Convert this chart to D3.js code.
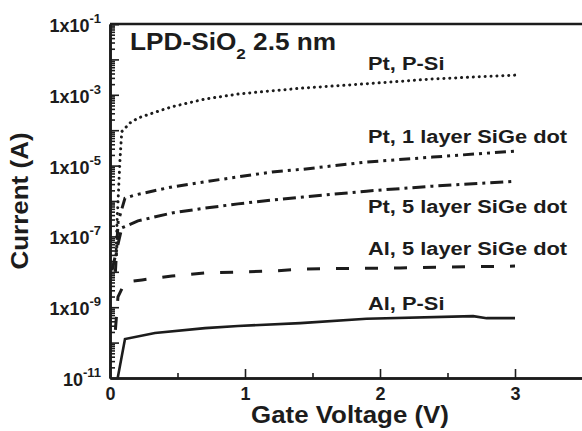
<!DOCTYPE html>
<html>
<head>
<meta charset="utf-8">
<script src="https://cdn.jsdelivr.net/npm/d3@7"></script>
<style>
  body { margin: 0; background: #fff; }
  svg text { font-family: "Liberation Sans", Arial, sans-serif; font-weight: bold; fill: #1c1c1c; }
</style>
</head>
<body>
<div id="chart"></div>
<script>
// I-V curves (gate voltage in V, current in A)
const ptPSi = [[0.045,3e-8],[0.052,2.4e-7],[0.074,1.45e-5],[0.087,9.1e-5],[0.148,1.6e-4],[0.207,2.2e-4],
  [0.333,3.2e-4],[0.459,4.6e-4],[0.704,7.6e-4],[0.948,1.05e-3],[1.2,1.3e-3],[1.43,1.55e-3],
  [1.9,2.05e-3],[2.39,2.8e-3],[3.0,3.6e-3]];
const pt1Layer = [[0.04,1e-8],[0.06,2.6e-7],[0.111,1.2e-6],[0.185,1.48e-6],[0.459,2.5e-6],[0.704,3.5e-6],
  [0.948,4.8e-6],[1.2,6.6e-6],[1.43,7.9e-6],[1.9,1.26e-5],[2.39,1.74e-5],[3.0,2.57e-5]];
const pt5Layer = [[0.015,1.1e-8],[0.087,1.74e-7],[0.207,2.75e-7],[0.459,4.6e-7],[0.704,6.3e-7],[0.948,8.3e-7],
  [1.2,1.07e-6],[1.43,1.29e-6],[1.9,1.9e-6],[2.39,2.63e-6],[3.0,3.6e-6]];
const al5Layer = [[0.04,2.3e-10],[0.059,1.95e-9],[0.111,5.1e-9],[0.237,5.9e-9],[0.459,7.6e-9],[0.704,9.3e-9],
  [0.948,9.8e-9],[1.2,1.05e-8],[1.43,1.2e-8],[2.15,1.29e-8],[3.0,1.45e-8]];
const alPSi = [[0.057,1e-11],[0.111,1.26e-10],[0.333,1.86e-10],[0.704,2.57e-10],[0.948,2.95e-10],
  [1.41,3.55e-10],[1.9,4.7e-10],[2.69,5.6e-10],[2.79,4.9e-10],[3.0,4.9e-10]];

const seriesLabels = ["Pt, P-Si", "Pt, 1 layer SiGe dot", "Pt, 5 layer SiGe dot", "Al, 5 layer SiGe dot", "Al, P-Si"];
// current level at each label's baseline
const labelCurrents = [5.0e-3, 4.4e-5, 4.6e-7, 2.95e-8, 8.3e-10];

const xTicks = [0, 1, 2, 3];
const xMinorTicks = [0.5, 1.5, 2.5];
const yDecades = d3.range(-11, 0).map(e => Math.pow(10, e));
const yLabelExps = [-1, -3, -5, -7, -9, -11];

const margin = {top: 24, left: 110};
const width = 472.5, height = 354;

const svg = d3.select("#chart").append("svg")
  .attr("width", 582)
  .attr("height", 431);

const x = d3.scaleLinear().domain([0, 3.5]).range([margin.left, margin.left + width]);
const y = d3.scaleLog().domain([1e-11, 1e-1]).range([margin.top + height, margin.top]);

svg.append("clipPath").attr("id", "plot")
  .append("rect")
  .attr("x", margin.left).attr("y", margin.top - 2)
  .attr("width", width).attr("height", height + 2);

// curves
const styles = [
  {data: ptPSi, dash: "0.1,5.8", cap: "round", w: 3},
  {data: pt1Layer, dash: "11,5,3,5,3,5", cap: "butt", w: 3},
  {data: pt5Layer, dash: "13,5,3,5", cap: "butt", w: 3},
  {data: al5Layer, dash: "13,16", cap: "butt", w: 3},
  {data: alPSi, dash: null, cap: "butt", w: 2.6}
];

const line = d3.line()
  .x(d => x(d[0]))
  .y(d => y(d[1]));

styles.forEach(s => {
  svg.append("path")
    .datum(s.data)
    .attr("clip-path", "url(#plot)")
    .attr("fill", "none")
    .attr("stroke", "#1c1c1c")
    .attr("stroke-width", s.w)
    .attr("stroke-linecap", s.cap)
    .attr("stroke-dasharray", s.dash)
    .attr("d", line);
});

// axes
const yMinor = [];
yDecades.slice(0, -1).forEach(d => { for (let k = 2; k <= 9; k++) yMinor.push(d * k); });

svg.append("g")
  .attr("transform", "translate(" + margin.left + ",0)")
  .call(d3.axisLeft(y).tickValues(yMinor).tickSize(-5).tickSizeOuter(0).tickFormat(""));
svg.append("g")
  .attr("transform", "translate(" + margin.left + ",0)")
  .call(d3.axisLeft(y).tickValues(yDecades.concat([1e-1])).tickSize(-9).tickSizeOuter(0).tickFormat(""));

svg.append("g")
  .attr("transform", "translate(0," + (margin.top + height) + ")")
  .call(d3.axisBottom(x).tickValues(xMinorTicks).tickSize(-5).tickSizeOuter(0).tickFormat(""));
const xAxis = svg.append("g")
  .attr("transform", "translate(0," + (margin.top + height) + ")")
  .call(d3.axisBottom(x).tickValues(xTicks).tickSize(-9).tickSizeOuter(0).tickPadding(9).tickFormat(d3.format("d")));
xAxis.selectAll("text").style("font-size", "18px");

svg.selectAll(".domain").attr("stroke", "#1c1c1c").attr("stroke-width", 2.6);
svg.selectAll(".tick line").attr("stroke", "#1c1c1c").attr("stroke-width", 1.6);

// top frame
svg.append("line")
  .attr("x1", margin.left).attr("x2", margin.left + width)
  .attr("y1", margin.top).attr("y2", margin.top)
  .attr("stroke", "#1c1c1c").attr("stroke-width", 2.4);

// y tick labels
yLabelExps.forEach(e => {
  const t = svg.append("text")
    .attr("x", 101)
    .attr("y", y(Math.pow(10, e)) + 8)
    .attr("text-anchor", "end")
    .style("font-size", "18px");
  t.append("tspan").text(e === -11 ? "10" : "1x10");
  t.append("tspan").attr("dy", -9).style("font-size", "13px").text(e);
});

// stretched text helper
function stretched(tx, ty, sx, size, anchor, rot) {
  const g = svg.append("g")
    .attr("transform", "translate(" + tx + "," + ty + ")" + (rot ? " rotate(" + rot + ")" : "") + " scale(" + sx + ",1)");
  return g.append("text")
    .attr("text-anchor", anchor)
    .style("font-size", size + "px");
}

stretched(350, 423, 1.125, 23, "middle").text("Gate Voltage (V)");
stretched(28, 201, 1.13, 23, "middle", -90).text("Current (A)");

const title = stretched(130, 50, 1.14, 23, "start");
title.append("tspan").text("LPD-SiO");
title.append("tspan").attr("dy", 9).style("font-size", "15px").text("2");
title.append("tspan").attr("dy", -9).text(" 2.5 nm");

seriesLabels.forEach((s, i) => {
  stretched(368, y(labelCurrents[i]), 1.15, 19, "start").text(s);
});
</script>
</body>
</html>
